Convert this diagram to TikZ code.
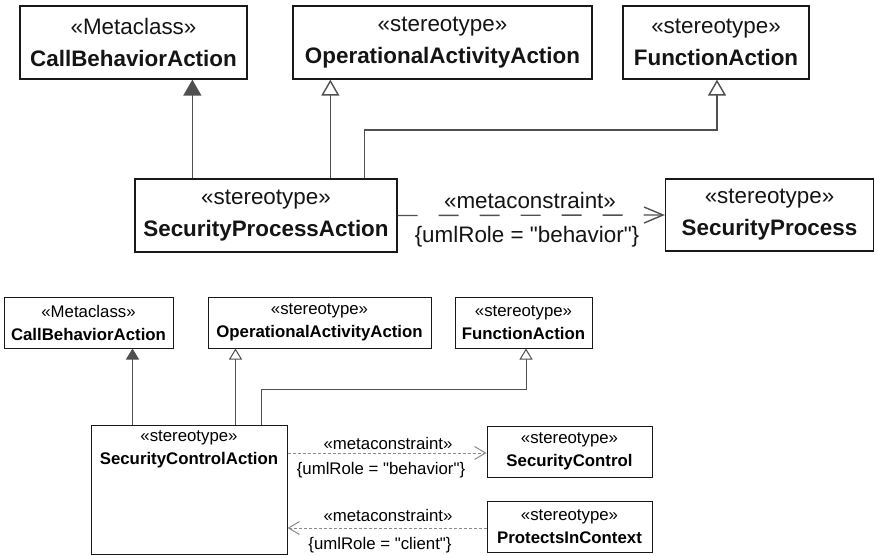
\documentclass[tikz,border=0pt]{standalone}
\usepackage{fontspec}
\setmainfont{Liberation Sans}
\newfontfamily\qf{Liberation Sans}
\usetikzlibrary{arrows.meta,calc}
\definecolor{linec}{HTML}{505050}
\definecolor{dashc}{HTML}{8A8A8A}
\definecolor{txtc}{HTML}{141414}
\newcommand\dq{{\qf\symbol{34}}}
\tikzset{
  tbox/.style={draw=black!90, line width=1.3pt, align=center, inner sep=0pt,
    font=\fontsize{22.4}{32}\selectfont, text=txtc},
  bbox/.style={draw=black!90, line width=1pt, align=center, inner sep=0pt,
    font=\fontsize{16.8}{23}\selectfont, text=black},
  btxt/.style={align=center, inner sep=0pt, font=\fontsize{16.8}{23}\selectfont, text=black},
  tlab/.style={inner sep=0pt, font=\fontsize{22.4}{26}\selectfont, text=txtc},
  blab/.style={inner sep=0pt, font=\fontsize{16.8}{20}\selectfont, text=black},
  tline/.style={draw=linec, line width=1.4pt},
  bline/.style={draw=linec, line width=1pt},
  tfill/.style={-{Triangle[length=16pt,width=18pt,fill=linec]}},
  topen/.style={-{Triangle[open,length=16pt,width=18pt,fill=white]}},
  bfill/.style={-{Triangle[length=11pt,width=13pt,fill=linec]}},
  bopen/.style={-{Triangle[open,length=11pt,width=13pt,fill=white]}},
  tdep/.style={draw=linec, line width=1.4pt, dash pattern=on 20pt off 21pt,
    -{Straight Barb[length=19pt,width=16pt,line width=1.4pt]}},
  bdep/.style={draw=dashc, line width=0.9pt, dash pattern=on 3pt off 2pt,
    -{Straight Barb[length=11pt,width=13pt,line width=1pt]}},
}
\begin{document}
\begin{tikzpicture}[x=1pt,y=-1pt]
\useasboundingbox (0,0) rectangle (875,556);
% ---------- top diagram ----------
\node[tbox, minimum width=227pt, minimum height=73pt] (cba) at (133.5,42.5)
  {«Metaclass»\\\textbf{CallBehaviorAction}};
\node[tbox, minimum width=299pt, minimum height=73pt] (oaa) at (442.5,42.5)
  {«stereotype»\\\textbf{OperationalActivityAction}};
\node[tbox, minimum width=186pt, minimum height=73pt] (fa) at (716,42.5)
  {«stereotype»\\\textbf{FunctionAction}};
\node[tbox, minimum width=262pt, minimum height=73pt] (spa) at (266,215.5)
  {«stereotype»\\\textbf{SecurityProcessAction}};
\node[tbox, minimum width=208pt, minimum height=72pt] (sp) at (769.5,215)
  {«stereotype»\\\textbf{SecurityProcess}};

\draw[tline, tfill] ([xshift=58pt]spa.north west) -- ([xshift=58pt]spa.north west |- cba.south);
\draw[tline, topen] ([xshift=196pt]spa.north west) -- ([xshift=196pt]spa.north west |- oaa.south);
\coordinate (fbend) at (717,130);
\draw[tline, topen] ([xshift=230pt]spa.north west) |- (fbend) -- (fbend |- fa.south);
\draw[tdep] (spa.east) -- (sp.west);
\node[tlab] (mc1) at (530,200) {«metaconstraint»};
\node[tlab] (ur1) at (527,237) {\{umlRole = \dq behavior\dq\}};

% ---------- bottom diagram ----------
\node[bbox, minimum width=169pt, minimum height=51pt] (cba2) at (88.5,322.5)
  {«Metaclass»\\\textbf{CallBehaviorAction}};
\node[bbox, minimum width=223pt, minimum height=51pt] (oaa2) at (319.5,322.5)
  {«stereotype»\\\textbf{OperationalActivityAction}};
\node[bbox, minimum width=137pt, minimum height=51pt] (fa2) at (523.5,322.5)
  {«stereotype»\\\textbf{FunctionAction}};
\node[bbox, minimum width=196pt, minimum height=129pt] (sca) at (189,489.5) {};
\node[btxt, anchor=north] (scat) at ([yshift=-6pt]sca.north)
  {«stereotype»\\\textbf{SecurityControlAction}};
\node[bbox, minimum width=165pt, minimum height=51pt] (sc) at (569.5,451.5)
  {«stereotype»\\\textbf{SecurityControl}};
\node[bbox, minimum width=165pt, minimum height=51pt] (pic) at (569.5,526.5)
  {«stereotype»\\\textbf{ProtectsInContext}};

\draw[bline, bfill] ([xshift=42pt]sca.north west) -- ([xshift=42pt]sca.north west |- cba2.south);
\draw[bline, bopen] ([xshift=145pt]sca.north west) -- ([xshift=145pt]sca.north west |- oaa2.south);
\coordinate (fbend2) at (526,389);
\draw[bline, bopen] ([xshift=171pt]sca.north west) |- (fbend2) -- (fbend2 |- fa2.south);
\draw[bdep] ([yshift=-1.5pt]sca.east |- sc.west) -- ([yshift=-1.5pt]sc.west);
\draw[bdep] ([yshift=-1.5pt]pic.west) -- ([yshift=-1.5pt]sca.east |- pic.west);
\node[blab] (mc2) at (388,443) {«metaconstraint»};
\node[blab] (ur2) at (381,470) {\{umlRole = \dq behavior\dq\}};
\node[blab] (mc3) at (388,515) {«metaconstraint»};
\node[blab] (ur3) at (380,545) {\{umlRole = \dq client\dq\}};
\end{tikzpicture}
\end{document}
